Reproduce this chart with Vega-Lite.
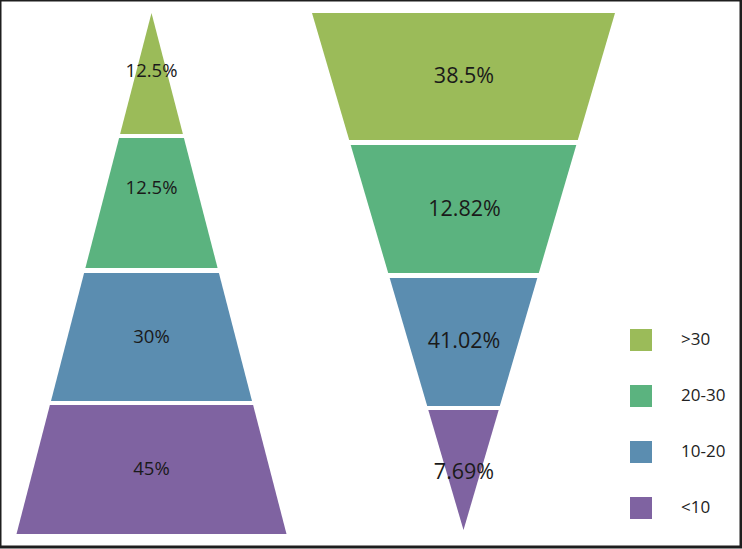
{
  "$schema": "https://vega.github.io/schema/vega-lite/v6.json",
  "width": 741,
  "height": 547,
  "autosize": "none",
  "padding": {"left": 0, "top": 0, "right": 1, "bottom": 2},
  "background": "white",
  "config": {
    "view": {"stroke": "#1e1e1e", "strokeWidth": 3},
    "text": {"font": "Open Sans"}
  },
  "datasets": {
    "shapes": [
      {"funnel": "left", "seg": "L1", "group": ">30", "y": 13, "xl": 151.5, "xr": 151.5},
      {"funnel": "left", "seg": "L1", "group": ">30", "y": 134, "xl": 120.1, "xr": 182.9},
      {"funnel": "left", "seg": "L2", "group": "20-30", "y": 138, "xl": 119.1, "xr": 183.9},
      {"funnel": "left", "seg": "L2", "group": "20-30", "y": 268, "xl": 85.4, "xr": 217.6},
      {"funnel": "left", "seg": "L3", "group": "10-20", "y": 273, "xl": 84.1, "xr": 218.9},
      {"funnel": "left", "seg": "L3", "group": "10-20", "y": 401, "xl": 51, "xr": 252},
      {"funnel": "left", "seg": "L4", "group": "<10", "y": 405, "xl": 49.9, "xr": 253.1},
      {"funnel": "left", "seg": "L4", "group": "<10", "y": 534, "xl": 16.5, "xr": 286.5},
      {"funnel": "right", "seg": "R1", "group": ">30", "y": 13, "xl": 312, "xr": 615},
      {"funnel": "right", "seg": "R1", "group": ">30", "y": 140, "xl": 349.2, "xr": 577.8},
      {"funnel": "right", "seg": "R2", "group": "20-30", "y": 145, "xl": 350.7, "xr": 576.3},
      {"funnel": "right", "seg": "R2", "group": "20-30", "y": 273, "xl": 388.2, "xr": 538.8},
      {"funnel": "right", "seg": "R3", "group": "10-20", "y": 278, "xl": 389.7, "xr": 537.3},
      {"funnel": "right", "seg": "R3", "group": "10-20", "y": 406, "xl": 427.2, "xr": 499.8},
      {"funnel": "right", "seg": "R4", "group": "<10", "y": 410, "xl": 428.3, "xr": 498.7},
      {"funnel": "right", "seg": "R4", "group": "<10", "y": 530, "xl": 463.5, "xr": 463.5}
    ],
    "labels": [
      {"funnel": "left", "group": ">30", "label": "12.5%", "lx": 151.5, "ly": 71},
      {"funnel": "left", "group": "20-30", "label": "12.5%", "lx": 151.5, "ly": 188},
      {"funnel": "left", "group": "10-20", "label": "30%", "lx": 151.5, "ly": 337},
      {"funnel": "left", "group": "<10", "label": "45%", "lx": 151.5, "ly": 469},
      {"funnel": "right", "group": ">30", "label": "38.5%", "lx": 464, "ly": 77},
      {"funnel": "right", "group": "20-30", "label": "12.82%", "lx": 464.5, "ly": 210},
      {"funnel": "right", "group": "10-20", "label": "41.02%", "lx": 464, "ly": 342},
      {"funnel": "right", "group": "<10", "label": "7.69%", "lx": 464, "ly": 473}
    ]
  },
  "layer": [
    {
      "data": {"name": "shapes"},
      "mark": {"type": "area", "orient": "horizontal", "opacity": 1},
      "encoding": {
        "y": {"field": "y", "type": "quantitative", "scale": {"domain": [0, 547], "reverse": true, "nice": false, "zero": false}, "axis": null},
        "x": {"field": "xl", "type": "quantitative", "scale": {"domain": [0, 741], "nice": false, "zero": false}, "axis": null, "stack": null},
        "x2": {"field": "xr"},
        "detail": {"field": "seg"},
        "color": {
          "field": "group",
          "type": "nominal",
          "scale": {"domain": [">30", "20-30", "10-20", "<10"], "range": ["#9bbb59", "#5bb37f", "#5b8db0", "#7f63a1"]},
          "legend": {
            "orient": "none",
            "legendX": 630,
            "legendY": 329,
            "title": null,
            "padding": 0,
            "symbolType": "square",
            "symbolSize": 484,
            "symbolStrokeWidth": 0,
            "symbolOpacity": 1,
            "labelFont": "Open Sans",
            "labelFontSize": 17,
            "labelColor": "#222222",
            "labelOffset": 29,
            "rowPadding": 34
          }
        }
      }
    },
    {
      "data": {"name": "labels"},
      "mark": {"type": "text", "align": "center", "baseline": "middle", "color": "#1a1a1a"},
      "encoding": {
        "x": {"field": "lx", "type": "quantitative"},
        "y": {"field": "ly", "type": "quantitative"},
        "text": {"field": "label"},
        "size": {
          "field": "funnel",
          "type": "nominal",
          "scale": {"domain": ["left", "right"], "range": [18.5, 21.5]},
          "legend": null
        }
      }
    }
  ]
}
